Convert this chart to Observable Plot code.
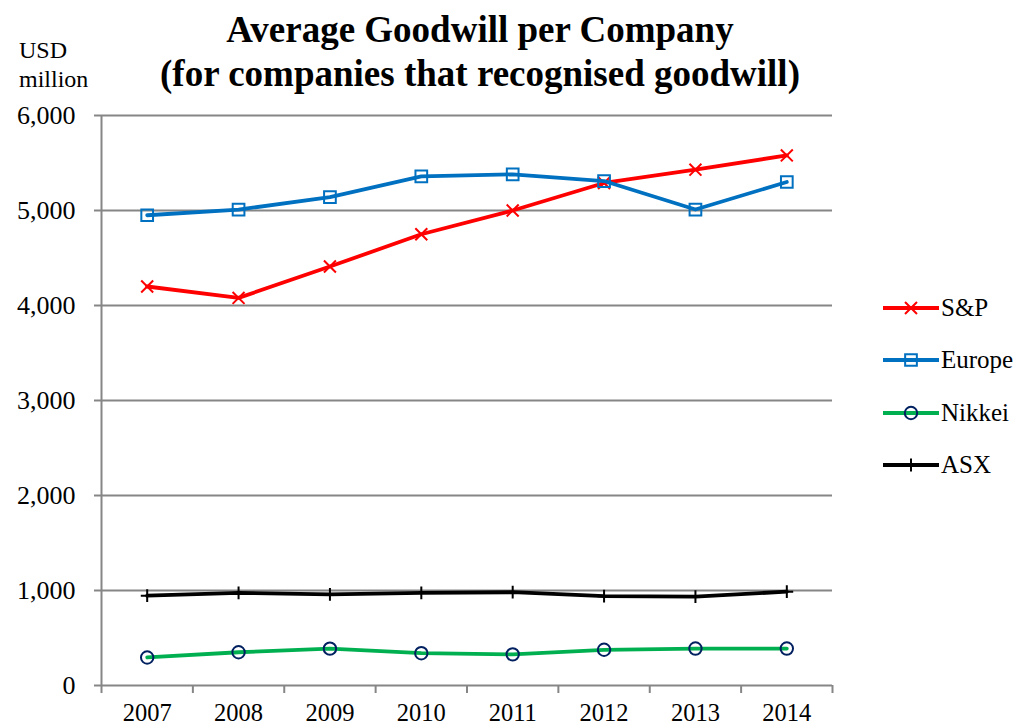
<!DOCTYPE html>
<html>
<head>
<meta charset="utf-8">
<script src="https://cdn.jsdelivr.net/npm/d3@7"></script>
<script src="https://cdn.jsdelivr.net/npm/@observablehq/plot@0.6"></script>
<style>
  html, body { margin: 0; padding: 0; background: #fff; }
  #wrap { position: relative; width: 1020px; height: 726px; font-family: "Liberation Serif", "Times New Roman", serif; color: #000; }
  #chart { position: absolute; left: 0; top: 0; }
  .title { position: absolute; left: 0; width: 960px; text-align: center; font-weight: bold; font-size: 37px; line-height: 44px; top: 8px; }
  .unit { position: absolute; left: 19px; top: 36px; text-align: left; font-size: 24px; line-height: 29px; }
  .legend { position: absolute; left: 883px; top: 0; }
  .legend .item { position: absolute; left: 0; height: 30px; display: flex; align-items: center; white-space: nowrap; font-size: 25px; }
  .legend svg { display: block; margin-right: 2px; }
</style>
</head>
<body>
<div id="wrap">
  <div id="chart"></div>
  <div class="title">Average Goodwill per Company<br>(for companies that recognised goodwill)</div>
  <div class="unit">USD<br>million</div>
  <div class="legend" id="legend"></div>
</div>
<script>
const years = [2007, 2008, 2009, 2010, 2011, 2012, 2013, 2014];
const spValues = [4200, 4080, 4410, 4750, 5000, 5290, 5430, 5580];
const europeValues = [4950, 5010, 5140, 5360, 5380, 5310, 5010, 5300];
const nikkeiValues = [295, 350, 388, 340, 328, 376, 389, 389];
const asxValues = [945, 975, 960, 975, 982, 940, 935, 988];
const seriesNames = ["S&P", "Europe", "Nikkei", "ASX"];
const yTicks = [0, 1000, 2000, 3000, 4000, 5000, 6000];
const xBoundaries = [2006.5, 2007.5, 2008.5, 2009.5, 2010.5, 2011.5, 2012.5, 2013.5, 2014.5];

const toRows = (vals) => years.map((year, i) => ({year, value: vals[i]}));
const sp = toRows(spValues), eu = toRows(europeValues), nk = toRows(nikkeiValues), asx = toRows(asxValues);

const serif = "'Liberation Serif', 'Times New Roman', serif";
const grid = "#868686";
const styles = {
  "S&P":   {stroke: "#FF0000", symbol: "times",  r: 5.5, mstroke: "#FF0000"},
  "Europe":{stroke: "#0070C0", symbol: "square", r: 6.6, mstroke: "#0070C0"},
  "Nikkei":{stroke: "#00B050", symbol: "circle", r: 6.2, mstroke: "#002060"},
  "ASX":   {stroke: "#000000", symbol: "plus",   r: 4.2, mstroke: "#000000"}
};
const dataBy = {"S&P": sp, "Europe": eu, "Nikkei": nk, "ASX": asx};

const seriesMarks = seriesNames.flatMap(name => {
  const s = styles[name];
  return [
    Plot.line(dataBy[name], {x: "year", y: "value", stroke: s.stroke, strokeWidth: 3.8}),
    Plot.dot(dataBy[name], {x: "year", y: "value", symbol: () => s.symbol, r: s.r, stroke: s.mstroke, strokeWidth: 2, fill: "none"})
  ];
});

const chart = Plot.plot({
  width: 1020,
  height: 726,
  marginLeft: 101,
  marginRight: 188,
  marginTop: 115,
  marginBottom: 41,
  style: {fontFamily: serif, fontSize: "25px", color: "#000", background: "#fff"},
  x: {type: "linear", domain: [2006.5, 2014.5], axis: null},
  y: {domain: [0, 6000], axis: null},
  symbol: {type: "identity"},
  marks: [
    Plot.ruleY(yTicks, {stroke: grid, strokeWidth: 2}),
    Plot.ruleX([xBoundaries[0]], {stroke: grid, strokeWidth: 2}),
    Plot.axisY({ticks: yTicks, label: null, tickFormat: d3.format(","), tickSize: 7, tickPadding: 19, stroke: grid, strokeWidth: 2, fill: "#000", fontSize: 26, fontFamily: serif}),
    Plot.axisX({ticks: xBoundaries, label: null, tickFormat: () => "", tickSize: 8, stroke: grid, strokeWidth: 2}),
    Plot.axisX({ticks: years, label: null, tickFormat: d => String(d), tickSize: 0, tickPadding: 18, fill: "#000", fontSize: 24.5, fontFamily: serif}),
    ...seriesMarks
  ]
});
document.getElementById("chart").appendChild(chart);

// legend
const legendY = {"S&P": 308, "Europe": 360, "Nikkei": 413, "ASX": 465};
const legend = document.getElementById("legend");
const symMap = {times: d3.symbolTimes, square: d3.symbolSquare, circle: d3.symbolCircle, plus: d3.symbolPlus};
seriesNames.forEach(name => {
  const s = styles[name];
  const item = document.createElement("div");
  item.className = "item";
  item.style.top = (legendY[name] - 15) + "px";
  const svg = d3.create("svg").attr("width", 56).attr("height", 30);
  svg.append("line").attr("x1", 0).attr("x2", 56).attr("y1", 15).attr("y2", 15)
    .attr("stroke", s.stroke).attr("stroke-width", 3.8);
  const size = Math.PI * s.r * s.r;
  svg.append("path").attr("transform", "translate(28,15)")
    .attr("d", d3.symbol(symMap[s.symbol], size)())
    .attr("fill", "none").attr("stroke", s.mstroke).attr("stroke-width", 2);
  item.appendChild(svg.node());
  const label = document.createElement("span");
  label.textContent = name;
  item.appendChild(label);
  legend.appendChild(item);
});
</script>
</body>
</html>
